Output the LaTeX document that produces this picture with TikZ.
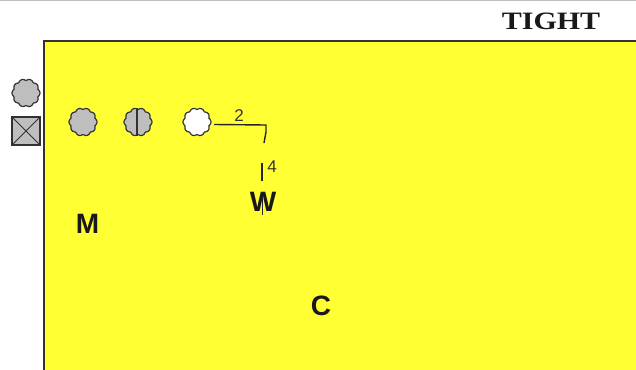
\documentclass[tikz,border=0pt]{standalone}
\usepackage{fontspec}
\setmainfont{Liberation Sans}
\newfontfamily\serifbold{Liberation Serif}
\definecolor{fieldyellow}{RGB}{255,255,51}
\definecolor{edgegray}{RGB}{50,50,50}
\definecolor{playergray}{RGB}{190,190,190}
\begin{document}
\begin{tikzpicture}[x=1pt,y=-1pt,
  cloud/.style={draw=edgegray,line width=1.2pt},
  lbl/.style={font=\bfseries\fontsize{28}{28}\selectfont,text=black!90,inner sep=0pt},
  route/.style={draw=black!85,line width=1.4pt},
  num/.style={font=\fontsize{17}{17}\selectfont,text=black!80,inner sep=0pt}]
  \useasboundingbox (0,0) rectangle (636,369);
  % page rule at the top
  \fill[black!25] (0,0) rectangle (636,1.5);
  % field
  \draw[fill=fieldyellow,draw=edgegray,line width=1.8pt] (44,41) rectangle (640,372);
  % formation title
  \node[font=\serifbold\bfseries\fontsize{25}{25}\selectfont,text=black!90,inner sep=0pt] (title) at (551,21) {\scalebox{1.2}[1]{TIGHT}};
  % scalloped player markers
  \newcommand\playermark[4]{%
    \coordinate (#1) at (#2,#3);
    \path[cloud,fill=#4] plot[smooth cycle,samples=81,domain=0:355.5]
      ({#2+(12.4+1.6*abs(cos(5*\x)))*cos(\x)},{#3+(12.4+1.6*abs(cos(5*\x)))*sin(\x)});
  }
  \playermark{sub}{26}{93}{playergray}
  \playermark{tackle}{83}{122}{playergray}
  \playermark{guard}{138}{122}{playergray}
  \draw[edgegray,line width=1.4pt] (137,108) -- (137,136);
  \playermark{end}{197}{122}{white}
  % ball marker
  \node[draw=edgegray,fill=playergray,line width=1.2pt,minimum size=28pt,inner sep=0pt] (ball) at (26,131) {};
  \draw[edgegray,line width=0.8pt] (ball.north west) -- (ball.south east) (ball.north east) -- (ball.south west);
  % route of the end
  \coordinate (turn) at (266,125);
  \coordinate (drop) at (264,143);
  \coordinate (stemtop) at (262,163);
  \coordinate (stembot) at (262,181);
  \coordinate (wtop) at (262,193);
  \coordinate (wbot) at (262,215);
  \draw[route] (end) ++(17,2.5) -- (turn) -- (266,132) -- (drop);
  \draw[route] (stemtop) -- (stembot);
  \draw[route,line width=1pt] (wtop) -- (wbot);
  \node[num] (n2) at (239,116) {2};
  \node[num] (n4) at (272,167) {4};
  % defenders
  \node[lbl] (W) at (263,202) {W};
  \node[lbl] (M) at (87.5,224) {M};
  \node[lbl] (C) at (321,306) {C};
\end{tikzpicture}
\end{document}
